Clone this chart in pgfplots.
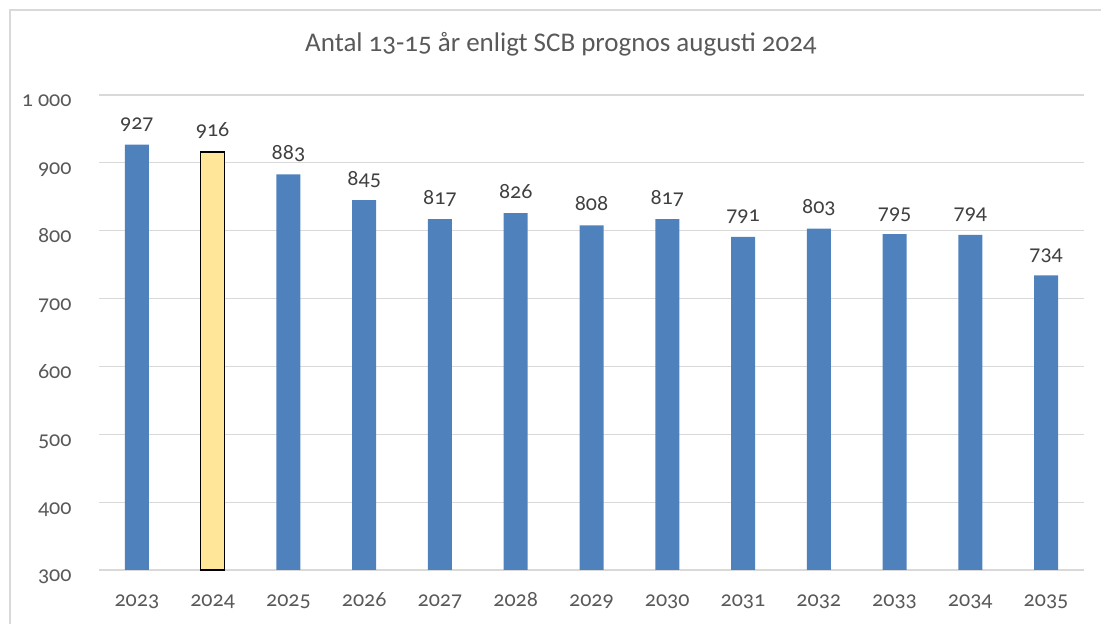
\documentclass[border=0pt]{standalone}
\usepackage{pgfplots}
\pgfplotsset{compat=1.18}
\usepackage{fontspec}
\setmainfont{Carlito}[Numbers=OldStyle]
\definecolor{barblue}{HTML}{4F81BD}
\definecolor{baryellow}{HTML}{FFE699}
\definecolor{gridgray}{HTML}{D9D9D9}
\definecolor{ticktext}{HTML}{595959}
\definecolor{labeltext}{HTML}{404040}
\begin{document}
\begin{tikzpicture}[x=1bp,y=1bp]
\useasboundingbox (0,0) rectangle (1101,624);
\draw[gridgray, line width=1.2bp] (10,-20) -- (10,614) -- (1120,614);
\begin{axis}[
  at={(99bp,54bp)}, anchor=south west,
  scale only axis, width=985bp, height=475bp,
  /pgf/number format/assume math mode=true,
  xmin=2022.5, xmax=2035.5, ymin=300, ymax=1000,
  xtick={2023,...,2035},
  xticklabels={2023,2024,2025,2026,2027,2028,2029,2030,2031,2032,2033,2034,2035},
  ytick={300,400,...,1000},
  yticklabels={300,400,500,600,700,800,900,1 000},
  ymajorgrids, grid style={gridgray, line width=1.2bp},
  axis x line*=bottom, axis y line*=left,
  x axis line style={gridgray, line width=1.2bp, -},
  y axis line style={draw=none},
  major tick length=0pt,
  tick label style={font=\fontsize{22bp}{26bp}\selectfont, text=ticktext},
  yticklabel style={anchor=base east, xshift=-24bp, yshift=-12bp},
  xticklabel style={anchor=base, yshift=-37bp},
  ybar, bar width=24bp,
  nodes near coords,
  nodes near coords style={font=\fontsize{22bp}{26bp}\selectfont, text=labeltext, anchor=base, yshift=15bp},
  title={Antal 13-15 år enligt SCB prognos augusti 2024},
  title style={font=\fontsize{27bp}{31bp}\selectfont, text=ticktext, at={(0.469,1)}, yshift=38bp, anchor=base},
  clip=false,
]
\addplot[fill=barblue, draw=none, bar shift=0pt] coordinates {
(2023,927) (2025,883) (2026,845) (2027,817) (2028,826) (2029,808) (2030,817) (2031,791) (2032,803) (2033,795) (2034,794) (2035,734)};
\addplot[fill=baryellow, draw=black, line width=1.5bp, bar shift=0pt] coordinates {(2024,916)};
\end{axis}
\end{tikzpicture}
\end{document}
